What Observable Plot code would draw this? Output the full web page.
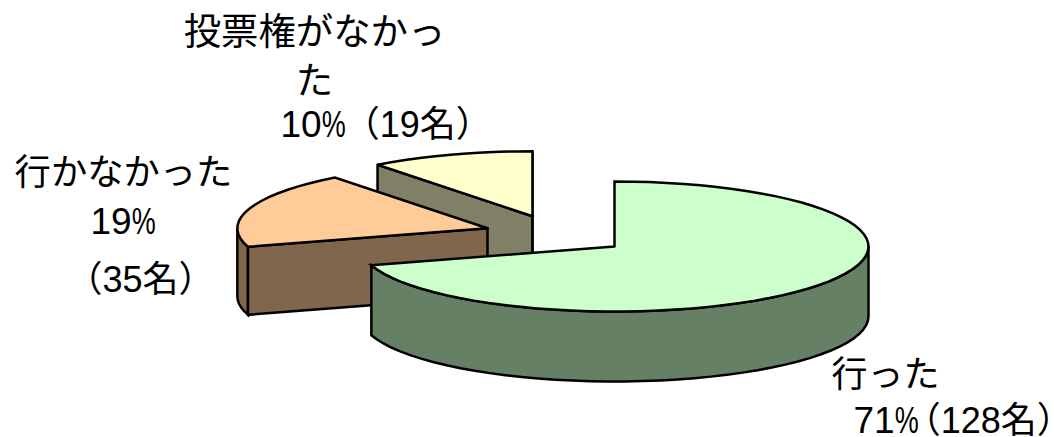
<!DOCTYPE html>
<html><head><meta charset="utf-8">
<style>html,body{margin:0;padding:0;background:#fff}svg{display:block}</style>
<script src="https://cdn.jsdelivr.net/npm/d3@7"></script>
<script src="https://cdn.jsdelivr.net/npm/@observablehq/plot@0.6"></script>
</head><body><script>
const categories = ["行った", "行かなかった", "投票権がなかった"];
const counts = [128, 35, 19];
const percents = [71, 19, 10];
const topColors = ["#CCFFCC", "#FFCC99", "#FFFFCC"];
const wallColors = ["#668066", "#80664D", "#808066"];
const explodeX = [0, -0.5, -0.323];
const explodeY = [0, -0.28, -0.465];
const radii = [1, 0.985, 1];
const depths = [70, 68, 70];
const labelFont = '"Liberation Sans","Noto Sans CJK JP",sans-serif';

const W = 1054, H = 437, RX = 254, RY = 65, CX = 614, CY = 246;
const total = d3.sum(counts);
const slices = [];
let acc = 0;
counts.forEach((c, i) => {
  const a0 = acc / total * 360; acc += c; const a1 = acc / total * 360;
  slices.push({a0, a1, cx: explodeX[i], cy: explodeY[i], r: radii[i], depth: depths[i] / RY, top: topColors[i], wall: wallColors[i]});
});
const rad = a => a * Math.PI / 180;
const rim = (s, a, low = false) => ({x: s.cx + s.r * Math.sin(rad(a)), y: s.cy - s.r * Math.cos(rad(a)) + (low ? s.depth : 0)});
const arc = (s, a0, a1, low = false) => {
  const n = Math.max(1, Math.ceil((a1 - a0) / 4)), out = [];
  for (let k = 0; k <= n; k++) out.push(rim(s, a0 + (a1 - a0) * k / n, low));
  return out;
};
const center = (s, low = false) => ({x: s.cx, y: s.cy + (low ? s.depth : 0)});
const face = (pts, fill) => Plot.line([...pts, pts[0]], {x: "x", y: "y", fill, stroke: "#000", strokeWidth: 2.5, strokeLinejoin: "miter", strokeMiterlimit: 4, curve: "linear"});

const [g, o, y] = slices;
const marks = [
  face([rim(y, y.a0), center(y), center(y, true), rim(y, y.a0, true)], y.wall),
  face([center(y), center(y, true), rim(y, y.a1, true), rim(y, y.a1)], y.wall),
  face([center(y), ...arc(y, y.a0, y.a1)], y.top),
  face([...arc(o, o.a0, 270), ...arc(o, o.a0, 270, true).reverse()], o.wall),
  face([center(o), rim(o, o.a0), rim(o, o.a0, true), center(o, true)], o.wall),
  face([center(o), ...arc(o, o.a0, o.a1)], o.top),
  face([...arc(g, 90, g.a1), ...arc(g, 90, g.a1, true).reverse()], g.wall),
  face([center(g), ...arc(g, g.a0, g.a1)], g.top)
];

const textLine = (t, dx, dy, size = 36, anchor = "middle") => Plot.text([t], {text: d => d, frameAnchor: "top-left", dx, dy, fontSize: size, fontFamily: labelFont, textAnchor: anchor, lineAnchor: "middle", fill: "#000"});
marks.push(
  textLine("投票権がなかっ", 314, 33, 37.4),
  textLine("た", 314, 82, 37.4),
  textLine(`${percents[2]}%（${counts[2]}名）`, 280, 125, 37, "start"),
  textLine("行かなかった", 123, 173, 36.3),
  textLine(`${percents[1]}%`, 90, 222, 37, "start"),
  textLine(`（${counts[1]}名）`, 140, 280, 36),
  textLine("行った", 885, 375, 36),
  textLine(`${percents[0]}%（${counts[0]}名）`, 853, 421, 37, "start")
);

const svg = Plot.plot({
  width: W, height: H, margin: 0,
  x: {axis: null, domain: [-CX / RX, (W - CX) / RX], range: [0, W]},
  y: {axis: null, domain: [-CY / RY, (H - CY) / RY], range: [0, H]},
  marks
});
// Condensed "%" and half-width parentheses, as in the reference's label typography.
const parenGap = {[percents[2]]: 16, [percents[0]]: 4};
d3.select(svg).selectAll("text").each(function () {
  const el = d3.select(this), s = el.text();
  if (s.includes("（")) el.style("font-feature-settings", '"halt"');
  const m = s.match(/^(\d+)(%)(.*)$/);
  if (!m) return;
  el.text(null);
  el.append("tspan").text(m[1]);
  el.append("tspan").attr("textLength", 24).attr("lengthAdjust", "spacingAndGlyphs").text(m[2]);
  if (m[3]) el.append("tspan").attr("dx", parenGap[m[1]] || 0).attr("font-size", 36).text(m[3]);
});
document.body.append(svg);
</script></body></html>
